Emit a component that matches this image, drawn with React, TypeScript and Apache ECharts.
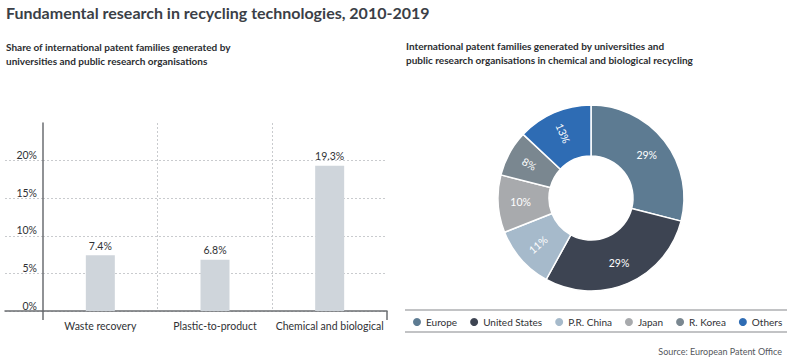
import React, { useEffect, useRef } from "react";
import * as echarts from "echarts";

const barCategories = ["Waste recovery", "Plastic-to-product", "Chemical and biological"];
const barValues = [7.4, 6.8, 19.3];
const yTicks = [0, 5, 10, 15, 20, 25];

const pieNames = ["Europe", "United States", "P.R. China", "Japan", "R. Korea", "Others"];
const pieValues = [29, 29, 11, 10, 8, 13];
const pieColors = ["#5d7b92", "#3d4452", "#a6bacb", "#a8aaad", "#7a8790", "#2e6cb4"];
const pieLabelRotate = [0, 0, 41, 0, -29, -67];

const FONT = "Lato";

export default function App() {
  const ref = useRef<HTMLDivElement>(null);
  useEffect(() => {
    document.body.style.margin = "0";
    const chart = echarts.init(ref.current!, null, { renderer: "svg" });
    const axisColor = "#6b6e72";
    const gridColor = "#c9cbce";
    chart.setOption({
      animation: false,
      textStyle: { fontFamily: FONT },
      title: [
        {
          text: "Fundamental research in recycling technologies, 2010-2019",
          left: 6,
          top: 4,
          padding: 0,
          textStyle: { fontSize: 16, fontWeight: 700, color: "#3b3f47", fontFamily: FONT },
        },
        {
          text: "Share of international patent families generated by\nuniversities and public research organisations",
          left: 6,
          top: 40,
          padding: 0,
          textStyle: { fontSize: 10, fontWeight: 700, color: "#2b2d31", lineHeight: 14, fontFamily: FONT },
        },
        {
          text: "International patent families generated by universities and\npublic research organisations in chemical and biological recycling",
          left: 406,
          top: 39,
          padding: 0,
          textStyle: { fontSize: 10, fontWeight: 700, color: "#2b2d31", lineHeight: 14, fontFamily: FONT },
        },
        {
          text: "Source: European Patent Office",
          right: 11,
          top: 347,
          padding: 0,
          textStyle: { fontSize: 9, fontWeight: 400, color: "#55585d", fontFamily: FONT },
        },
      ],
      grid: [
        { left: 43, top: 123, width: 344, height: 188 },
        { left: 5, top: 123, width: 38, height: 188 },
      ],
      xAxis: [
        {
          type: "category",
          gridIndex: 0,
          data: barCategories,
          axisLine: { show: true, lineStyle: { color: axisColor, width: 1.5 } },
          axisTick: {
            show: true,
            length: 9,
            interval: (i: number) => i === 0,
            lineStyle: { color: axisColor, width: 1.5 },
          },
          axisLabel: { interval: 0, color: "#2f3134", fontSize: 10.5, margin: 9, fontFamily: FONT },
          splitLine: {
            show: true,
            interval: 0,
            showMinLine: false,
            showMaxLine: false,
            lineStyle: { color: gridColor, type: [2, 2], width: 1 },
          },
        },
        {
          type: "value",
          gridIndex: 1,
          min: 0,
          max: 1,
          axisLine: { show: true, onZero: false, lineStyle: { color: axisColor, width: 1.5 } },
          axisTick: { show: false },
          axisLabel: { show: false },
          splitLine: { show: false },
        },
      ],
      yAxis: [
        {
          type: "value",
          gridIndex: 0,
          min: yTicks[0],
          max: yTicks[yTicks.length - 1],
          interval: 5,
          axisLine: { show: true, lineStyle: { color: axisColor, width: 1.5 } },
          axisTick: { show: false },
          axisLabel: {
            show: true,
            formatter: (v: number) => (v === 25 ? "" : v + "%"),
            color: "#2f3134",
            fontSize: 10.5,
            margin: 6,
            verticalAlign: "bottom",
            fontFamily: FONT,
          },
          splitLine: {
            show: true,
            showMaxLine: false,
            lineStyle: { color: gridColor, type: [2, 2], width: 1 },
          },
        },
        {
          type: "value",
          gridIndex: 1,
          min: yTicks[0],
          max: yTicks[yTicks.length - 1],
          interval: 5,
          axisLine: { show: false },
          axisTick: { show: false },
          axisLabel: { show: false },
          splitLine: {
            show: true,
            showMaxLine: false,
            lineStyle: { color: gridColor, type: [2, 2], width: 1 },
          },
        },
      ],
      legend: {
        left: 411,
        top: 316,
        width: 380,
        padding: 0,
        icon: "circle",
        itemWidth: 10,
        itemHeight: 10,
        itemGap: 11,
        data: pieNames,
        textStyle: { fontSize: 10, color: "#2f3134", fontFamily: FONT, padding: [0, 0, 0, -1] },
      },
      graphic: [
        { type: "line", shape: { x1: 405, y1: 310, x2: 787, y2: 310 }, style: { stroke: "#85888c", lineWidth: 1.2 } },
        { type: "line", shape: { x1: 405, y1: 332, x2: 787, y2: 332 }, style: { stroke: "#85888c", lineWidth: 1.2 } },
      ],
      series: [
        {
          type: "bar",
          xAxisIndex: 0,
          yAxisIndex: 0,
          data: barValues,
          barWidth: 29,
          itemStyle: { color: "#cfd5db" },
          label: {
            show: true,
            position: "top",
            distance: 4,
            formatter: (p: any) => p.value + "%",
            color: "#2f3134",
            fontSize: 10.5,
            fontFamily: FONT,
          },
        },
        {
          type: "pie",
          center: [591, 198],
          radius: [42, 93],
          startAngle: 90,
          clockwise: true,
          itemStyle: { borderColor: "#ffffff", borderWidth: 1.5 },
          label: {
            show: true,
            position: "inside",
            color: "#ffffff",
            fontSize: 10.5,
            formatter: (p: any) => p.value + "%",
            fontFamily: FONT,
          },
          labelLine: { show: false },
          data: pieNames.map((n, i) => ({
            name: n,
            value: pieValues[i],
            itemStyle: { color: pieColors[i] },
            label: { rotate: pieLabelRotate[i] },
          })),
        },
      ],
    });
    return () => chart.dispose();
  }, []);
  return <div ref={ref} style={{ width: 793, height: 358 }} />;
}
